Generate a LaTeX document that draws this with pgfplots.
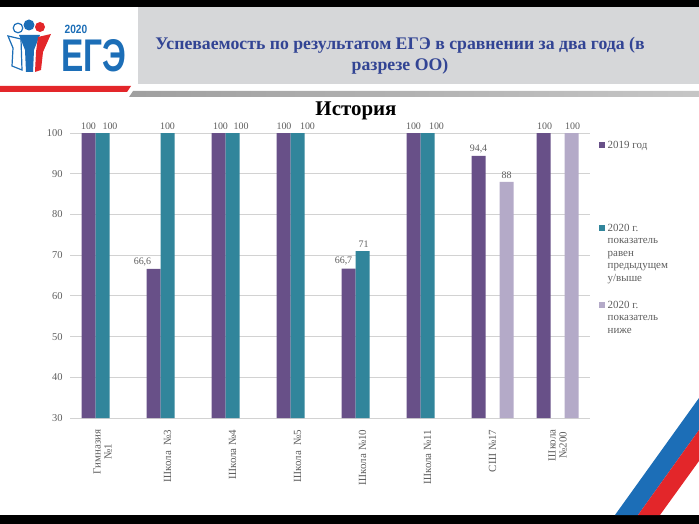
\documentclass[border=0pt]{standalone}
\usepackage{pgfplots}
\pgfplotsset{compat=1.18}
\usepackage{fontspec}
\setmainfont{Liberation Serif}
\newfontfamily\logofont{Liberation Sans}
\definecolor{c19}{RGB}{104,80,136}
\definecolor{cteal}{RGB}{49,133,155}
\definecolor{clight}{RGB}{180,170,200}
\definecolor{txt}{RGB}{95,95,95}
\definecolor{hdr}{RGB}{214,215,217}
\definecolor{ttl}{RGB}{50,68,148}
\definecolor{lblue}{RGB}{28,110,183}
\definecolor{lred}{RGB}{227,38,42}
\begin{document}
\begin{tikzpicture}
\begin{scope}[x=1bp,y=-1bp]
\path[use as bounding box] (0,0) rectangle (699,524);
\fill[white] (0,0) rectangle (699,524);
\fill[black] (0,0) rectangle (699,7);
\fill[black] (0,515) rectangle (699,524);
\fill[hdr] (138,7) rectangle (699,84);
\fill[lred] (0,86) -- (131,86) -- (127,92) -- (0,92) -- cycle;
\shade[left color=gray!75, right color=gray!45] (133,91) -- (699,91) -- (699,97) -- (129,97) -- cycle;
% logo
\fill[lblue] (29,25) circle (5.5);
\fill[lred] (40,27) circle (5);
\draw[lblue, line width=1.2, fill=white] (18,28) circle (4.8);
\draw[lblue, line width=1.2, fill=white] (8,36) -- (21,39) -- (22,70) -- (12,66) -- (13,48) -- cycle;
\fill[lblue] (19,35) -- (40,35) -- (34,50) -- (33,72) -- (26,72) -- (25,50) -- cycle;
\fill[lred] (38,37) -- (51,34) -- (43,52) -- (41,70) -- (35,72) -- (36,52) -- cycle;
\node[lblue, inner sep=0pt, font=\logofont\bfseries\fontsize{12}{12}\selectfont, xscale=0.85] at (76,29) {2020};
\node[lblue, inner sep=0pt, font=\logofont\bfseries\fontsize{46}{46}\selectfont, xscale=0.73] at (94,55.5) {ЕГЭ};
% header title
\node[ttl, font=\bfseries\fontsize{17.8}{21}\selectfont, align=center] at (400,56) {Успеваемость по результатом ЕГЭ в сравнении за два года (в\\разрезе ОО)};
% stripes
\fill[lblue] (615,515) -- (638,515) -- (699,430) -- (699,398) -- cycle;
\fill[lred] (638,515) -- (660,515) -- (699,461) -- (699,430) -- cycle;
% chart title
\node[font=\bfseries\fontsize{21}{24}\selectfont] at (356,111) {История};
\end{scope}
\begin{axis}[
  at={(70bp,-418bp)}, anchor=south west,
  scale only axis, width=520bp, height=285bp,
  xmin=-0.5, xmax=7.5, ymin=30, ymax=100,
  ytick={30,40,...,100},
  xtick={0,...,7},
  xticklabels={{Гимназия\\№1},{Школа\ \ №3},{Школа №4},{Школа\ \ №5},{Школа №10},{Школа №11},{СШ №17},{Школа\\№200}},
  xticklabel style={yshift=-8bp, rotate=90, anchor=east, align=center, font=\fontsize{11}{11}\selectfont, text=txt},
  yticklabel style={font=\fontsize{10.5}{12}\selectfont, text=txt, xshift=-4bp},
  /pgf/number format/assume math mode=true,
  /pgf/number format/use comma,
  ymajorgrids, grid style={draw=gray!35, line width=0.8bp},
  axis line style={draw=none},
  major tick length=0pt,
  ybar=0pt, bar width=14bp,
  nodes near coords,
  visualization depends on={\thisrow{dx}\as\dx},
  every node near coord/.append style={font=\fontsize{10}{11}\selectfont, text=txt, inner sep=3bp, xshift=\dx bp},
  legend style={at={(axis description cs:1.0173,0.972)}, anchor=north west, draw=none, fill=none,
    font=\fontsize{11}{12.5}\selectfont, text=txt, inner sep=0bp, row sep=17bp,
    nodes={inner sep=0bp}, column sep=3bp, cells={anchor=base west}},
  legend image code/.code={\fill[#1] (0bp,0.8bp) rectangle (5.5bp,6.3bp);},
]
\addplot[fill=c19, draw=none] table[x=x, y=y] {
x y dx
0 100 0
1 66.6 -11
2 100 2
3 100 0.5
4 66.7 -5
5 100 0
6 94.4 0
7 100 1
};
\addlegendentry[text height=7.5bp, text depth=58.3bp]{2019 год}
\addplot[fill=cteal, draw=none] table[x=x, y=y] {
x y dx
0 100 7.5
1 100 0
2 100 8.7
3 100 10
4 71 1
5 100 9
};
\addlegendentry[text height=7.5bp, text depth=52.5bp]{\parbox[t]{80bp}{\raggedright 2020 г.\\показатель\\равен\\предыдущем\\у/выше}}
\addplot[fill=clight, draw=none] table[x=x, y=y] {
x y dx
6 88 0
7 100 1
};
\addlegendentry[text height=7.5bp, text depth=27.5bp]{\parbox[t]{80bp}{\raggedright 2020 г.\\показатель\\ниже}}
\end{axis}
\end{tikzpicture}
\end{document}
